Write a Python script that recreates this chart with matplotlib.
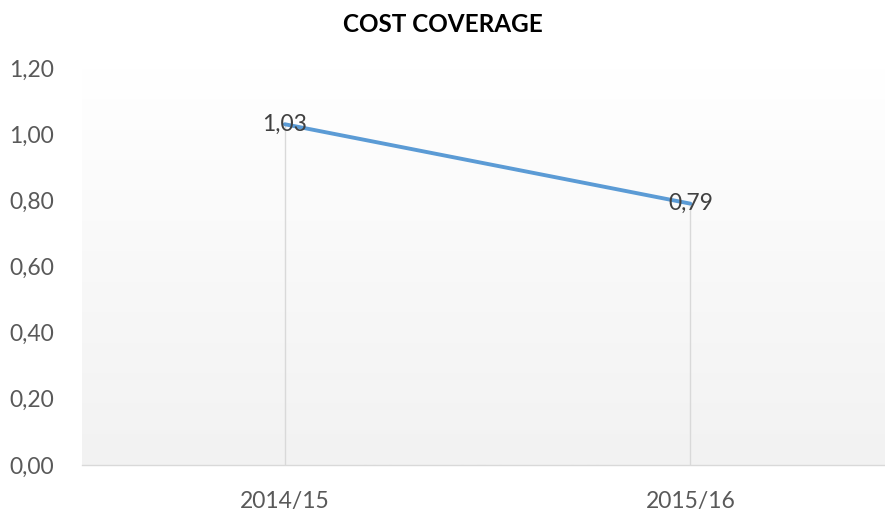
import numpy as np
import matplotlib
matplotlib.use("Agg")
import matplotlib.pyplot as plt

categories = ["2014/15", "2015/16"]
values = [1.03, 0.79]
yticks = [0.0, 0.2, 0.4, 0.6, 0.8, 1.0, 1.2]
title = "COST COVERAGE"

plt.rcParams['font.family'] = ['Lato', 'DejaVu Sans']

fig = plt.figure(figsize=(8.85, 5.16), dpi=100)
W, H = 885, 516
left, right, bottom, top = 82, 885, 465, 68
ax = fig.add_axes([left / W, 1 - bottom / H, (right - left) / W, (bottom - top) / H])

x = np.arange(len(categories))
ax.set_xlim(-0.5, 1.48)
ax.set_ylim(0, 1.2)

# gradient background
grad = np.linspace(1.0, 0.0, 256).reshape(-1, 1, 1)
c_top = np.array([1.0, 1.0, 1.0])
c_bot = np.array([0xf2, 0xf2, 0xf2]) / 255.0
img = c_top * grad + c_bot * (1 - grad)
ax.imshow(img, extent=[0, 1, 0, 1], transform=ax.transAxes, aspect='auto', zorder=0)

# drop lines
for xi, v in zip(x, values):
    ax.plot([xi, xi], [0, v], color='#d9d9d9', lw=1.0, zorder=1)

ax.plot(x, values, color='#5b9bd5', lw=2.8, solid_capstyle='round', zorder=3)

for xi, v in zip(x, values):
    ax.text(xi, v, f"{v:.2f}".replace('.', ','), ha='center', va='center',
            fontsize=16.5, color='#404040', zorder=4)

ax.set_xticks(x)
ax.set_xticklabels(categories, fontsize=16.5, color='#595959')
ax.set_yticks(yticks)
ax.set_yticklabels([f"{t:.2f}".replace('.', ',') for t in yticks], fontsize=16.5,
                   color='#595959')
ax.tick_params(axis='both', length=0)
ax.tick_params(axis='x', pad=19)
ax.tick_params(axis='y', pad=20)
for s in ['left', 'right', 'top']:
    ax.spines[s].set_visible(False)
ax.spines['bottom'].set_color('#d9d9d9')
ax.spines['bottom'].set_linewidth(1.0)

fig.text(0.5, 1 - 24 / H, title, ha='center', va='center', fontsize=17.5, fontweight='bold',
         color='black')

fig.savefig("out.png", dpi=100)
